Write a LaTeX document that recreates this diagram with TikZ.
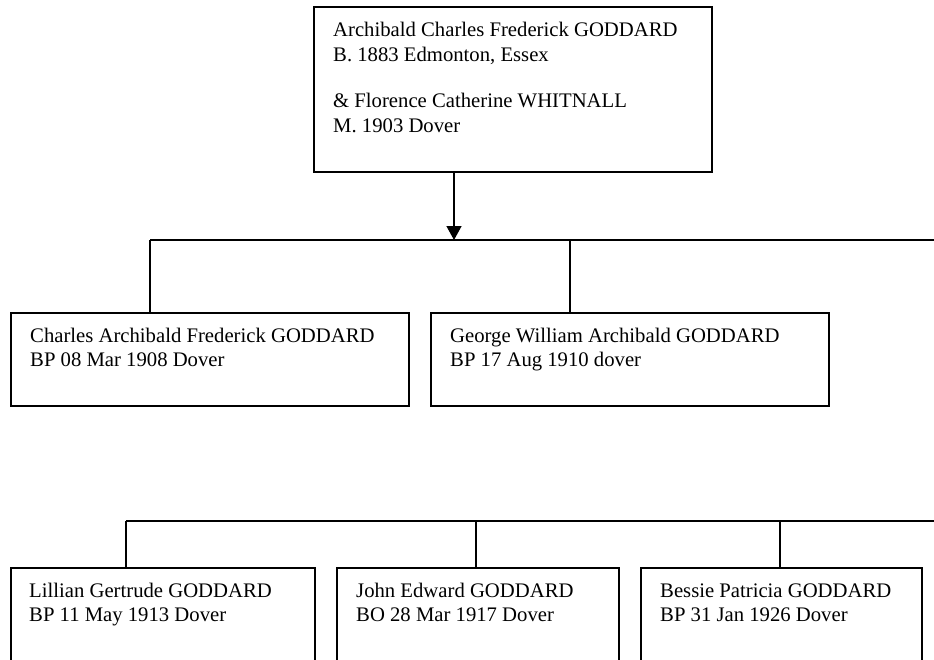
\documentclass[tikz,border=0pt]{standalone}
\usepackage{fontspec}
\setmainfont{Liberation Serif}
\usetikzlibrary{arrows.meta}
\begin{document}
\begin{tikzpicture}[x=1pt,y=-1pt,
  personbox/.style={draw=black,line width=1.6pt,inner sep=0pt,anchor=north west},
  txt/.style={inner sep=0pt,anchor=base west,font=\fontsize{20.7}{25}\selectfont},
  conn/.style={draw=black,line width=1.4pt},
  arr/.style={conn,-{Triangle[length=14pt,width=15pt]}}]
\useasboundingbox (0,0) rectangle (934,659);
% top box
\node[personbox,minimum width=398pt,minimum height=165pt] (top) at (313,6) {};
\node[txt] (t1) at (333,36) {Archibald Charles Frederick GODDARD};
\node[txt] (t2) at (333,61) {B. 1883 Edmonton, Essex};
\node[txt] (t3) at (333,107) {\& Florence Catherine WHITNALL};
\node[txt] (t4) at (333,132) {M. 1903 Dover};
% row 1
\node[personbox,minimum width=398pt,minimum height=93pt] (c1) at (10,312) {};
\node[txt] (c1a) at (30,342) {Charles Archibald Frederick GODDARD};
\node[txt] (c1b) at (30,366) {BP 08 Mar 1908 Dover};
\node[personbox,minimum width=398pt,minimum height=93pt] (c2) at (430,312) {};
\node[txt] (c2a) at (450,342) {George William Archibald GODDARD};
\node[txt] (c2b) at (450,366) {BP 17 Aug 1910 dover};
% row 2
\node[personbox,minimum width=304pt,minimum height=110pt] (d1) at (10,567) {};
\node[txt] (d1a) at (29,597) {Lillian Gertrude GODDARD};
\node[txt] (d1b) at (29,621) {BP 11 May 1913 Dover};
\node[personbox,minimum width=282pt,minimum height=110pt] (d2) at (336,567) {};
\node[txt] (d2a) at (356,597) {John Edward GODDARD};
\node[txt] (d2b) at (356,621) {BO 28 Mar 1917 Dover};
\node[personbox,minimum width=281pt,minimum height=110pt] (d3) at (640,567) {};
\node[txt] (d3a) at (660,597) {Bessie Patricia GODDARD};
\node[txt] (d3b) at (660,621) {BP 31 Jan 1926 Dover};
% connectors
\coordinate (j1) at (454,240);
\coordinate (h1l) at (150,240);
\coordinate (h1r) at (934,240);
\coordinate (h2l) at (126,521);
\coordinate (h2r) at (934,521);
\draw[arr] (top.south -| j1) -- (j1);
\draw[conn] (h1l) -- (h1r);
\draw[conn] (h1l) -- (h1l |- c1.north);
\draw[conn] (570,240) -- (570,312);
\draw[conn] (h2l) -- (h2r);
\draw[conn] (h2l) -- (h2l |- d1.north);
\draw[conn] (476,521) -- (476,567);
\draw[conn] (780,521) -- (780,567);
\end{tikzpicture}
\end{document}
